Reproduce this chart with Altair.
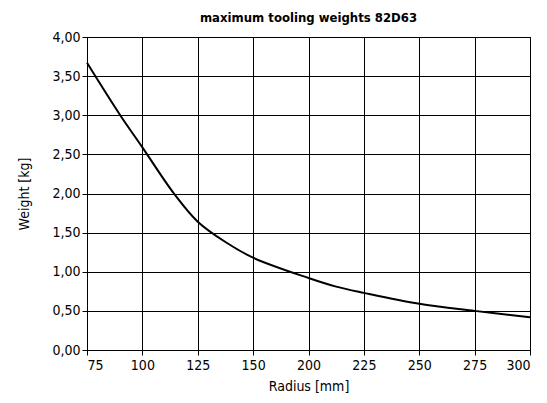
import altair as alt
import pandas as pd

# x positions are in grid-interval units (0..8), labels as printed on the chart
x_labels = ["75", "100", "125", "150", "200", "225", "250", "275", "300"]
pos = [0.0, 0.6, 1.0, 1.57, 2.0, 2.5, 3.0, 4.0, 4.5, 5.0, 6.0, 7.0, 8.0]
weight = [3.67, 3.00, 2.59, 2.00, 1.64, 1.38, 1.18, 0.92, 0.81, 0.73, 0.59, 0.50, 0.42]

df = pd.DataFrame({"pos": pos, "weight": weight})

FONT = "'Liberation Sans Narrow', 'DejaVu Sans Condensed', Roboto, sans-serif"
label_arr = "[" + ",".join("'%s'" % s for s in x_labels) + "]"

chart = alt.Chart(df).mark_line(color="black", strokeWidth=2, interpolate="catmull-rom").encode(
    x=alt.X("pos:Q", scale=alt.Scale(domain=[0, 8], nice=False, zero=False),
            axis=alt.Axis(title="Radius [mm]", values=list(range(9)),
                          labelExpr=label_arr + "[datum.value]",
                          grid=True, gridColor="black", gridOpacity=1, gridWidth=1,
                          domainColor="black", tickColor="black", tickSize=5,
                          labelFont=FONT, labelFontSize=14, labelColor="black",
                          titleFont=FONT, titleFontSize=14, titleFontWeight="normal",
                          titleColor="black", labelPadding=3, titlePadding=7)),
    y=alt.Y("weight:Q", scale=alt.Scale(domain=[0, 4], nice=False),
            axis=alt.Axis(title="Weight [kg]", values=[0, 0.5, 1, 1.5, 2, 2.5, 3, 3.5, 4],
                          labelExpr="replace(format(datum.value, '.2f'), '.', ',')",
                          grid=True, gridColor="black", gridOpacity=1, gridWidth=1,
                          domainColor="black", tickColor="black", tickSize=5,
                          labelFont=FONT, labelFontSize=14, labelColor="black",
                          titleFont=FONT, titleFontSize=14, titleFontWeight="normal",
                          titleColor="black", labelPadding=2, titlePadding=20)),
).properties(
    width=443, height=313,
    title=alt.TitleParams("maximum tooling weights 82D63", font=FONT, fontSize=13,
                          fontWeight="bold", color="black", anchor="middle", offset=5),
    autosize=alt.AutoSizeParams(type="none"),
    padding={"left": 79, "top": 29, "right": 9, "bottom": 45},
).configure_view(stroke="black", strokeWidth=1)

chart.save("out.html", embed_options={"renderer": "svg", "actions": False})
